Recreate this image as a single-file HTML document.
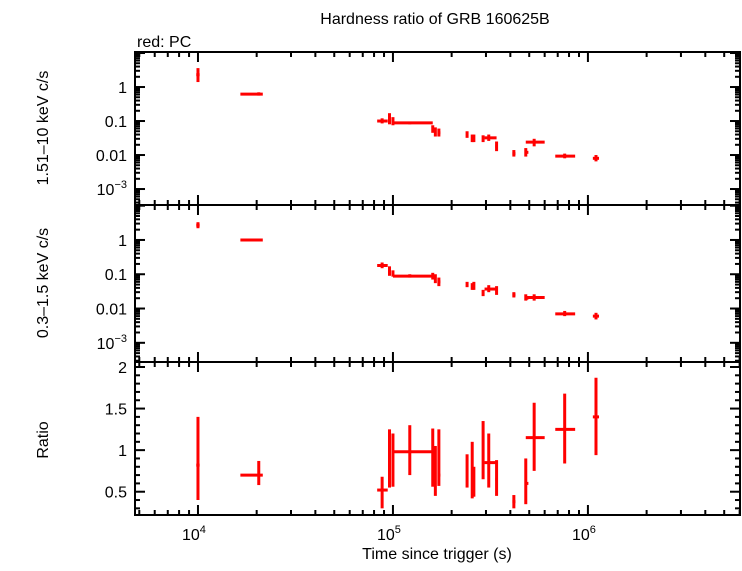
<!DOCTYPE html>
<html><head><meta charset="utf-8"><style>
body{margin:0;background:#fff;}
svg text{font-family:"Liberation Sans",sans-serif;}
</style></head><body>
<svg id="c" width="742" height="566" viewBox="0 0 742 566" xmlns="http://www.w3.org/2000/svg">
<text x="435" y="24" font-size="16" text-anchor="middle">Hardness ratio of GRB 160625B</text>
<text x="137" y="47" font-size="16">red: PC</text>
<text transform="translate(48,128) rotate(-90)" font-size="16" text-anchor="middle">1.51–10 keV c/s</text>
<text transform="translate(48,283) rotate(-90)" font-size="16" text-anchor="middle">0.3–1.5 keV c/s</text>
<text transform="translate(48,440) rotate(-90)" font-size="16" text-anchor="middle">Ratio</text>
<text x="437" y="559" font-size="16" text-anchor="middle">Time since trigger (s)</text>
<g id="g"></g>
</svg>
<script>
const tMid=[1.0e4,2.05e4,8.8e4,9.6e4,1.0e5,1.22e5,1.6e5,1.65e5,1.72e5,2.4e5,2.55e5,2.6e5,2.9e5,3.1e5,3.4e5,4.17e5,4.8e5,5.3e5,7.6e5,1.1e6];
const tLo=[0.98e4,1.65e4,8.3e4,9.5e4,0.99e5,1.0e5,1.58e5,1.64e5,1.70e5,2.38e5,2.53e5,2.59e5,2.88e5,2.95e5,3.35e5,4.1e5,4.75e5,4.8e5,6.8e5,1.06e6];
const tHi=[1.02e4,2.15e4,9.4e4,9.7e4,1.01e5,1.6e5,1.62e5,1.67e5,1.75e5,2.42e5,2.57e5,2.62e5,2.92e5,3.4e5,3.45e5,4.25e5,4.95e5,6.0e5,8.6e5,1.14e6];
const hard=[2.3,0.62,0.1,0.11,0.1,0.088,0.06,0.05,0.045,0.042,0.03,0.028,0.03,0.032,0.018,0.011,0.012,0.024,0.0093,0.008];
const hardLo=[1.4,0.56,0.085,0.08,0.075,0.08,0.045,0.035,0.035,0.032,0.024,0.024,0.024,0.026,0.013,0.009,0.009,0.018,0.008,0.0065];
const hardHi=[3.6,0.7,0.12,0.17,0.13,0.096,0.075,0.065,0.06,0.05,0.04,0.04,0.038,0.04,0.025,0.014,0.016,0.03,0.011,0.01];
const soft=[2.7,1.0,0.18,0.13,0.1,0.088,0.085,0.07,0.06,0.05,0.045,0.043,0.028,0.037,0.035,0.025,0.02,0.021,0.007,0.006];
const softLo=[2.2,0.92,0.15,0.09,0.085,0.08,0.07,0.055,0.045,0.042,0.035,0.035,0.023,0.03,0.025,0.021,0.017,0.017,0.006,0.0048];
const softHi=[3.3,1.08,0.22,0.17,0.13,0.1,0.11,0.1,0.08,0.06,0.055,0.06,0.035,0.048,0.045,0.03,0.026,0.026,0.0085,0.0075];
const ratio=[0.82,0.7,0.52,0.95,0.98,0.98,0.85,0.75,0.7,0.75,0.7,0.6,1.0,0.85,0.65,0.38,0.6,1.15,1.25,1.4];
const ratioLo=[0.4,0.58,0.3,0.55,0.56,0.7,0.56,0.45,0.57,0.55,0.42,0.44,0.65,0.55,0.45,0.3,0.35,0.75,0.84,0.94];
const ratioHi=[1.4,0.87,0.68,1.25,1.2,1.3,1.26,1.05,1.25,0.95,1.1,0.8,1.35,1.2,0.88,0.46,0.9,1.57,1.68,1.87];
const xTicks=[4,5,6];
const logTicks=[0,-1,-2,-3];
const logTickLabels=["1","0.1","0.01","10"];
const ratioTicks=[0.5,1,1.5,2];
const ratioTickLabels=["0.5","1","1.5","2"];

const NS="http://www.w3.org/2000/svg";
const g=document.getElementById('g');
const L=135,R=740;
const lx0=3.677,lx1=6.78;
function X(t){return L+(Math.log10(t)-lx0)/(lx1-lx0)*(R-L);}
const panels=[{top:52,bot:205,lmax:1.03,lmin:-3.47},{top:205,bot:362,lmax:1.02,lmin:-3.56}];
function Ylog(p,v){return p.top+(p.lmax-Math.log10(v))/(p.lmax-p.lmin)*(p.bot-p.top);}
const rp={top:362,bot:515,max:2.06,min:0.22};
function Yr(v){return rp.top+(rp.max-v)/(rp.max-rp.min)*(rp.bot-rp.top);}
function el(tag,a,p){const e=document.createElementNS(NS,tag);for(const k in a)e.setAttribute(k,a[k]);(p||g).appendChild(e);return e;}
function line(x1,y1,x2,y2,c,w){return el('line',{x1,y1,x2,y2,stroke:c,'stroke-width':w});}

const allP=[panels[0],panels[1],rp];
allP.forEach((p,i)=>{
  const r=el('rect',{x:L,y:p.top,width:R-L,height:p.bot-p.top,fill:'none',stroke:'#000','stroke-width':2});
  
  
  for(let d=3;d<=6;d++){for(let m=1;m<10;m++){const t=m*Math.pow(10,d);const x=X(t);if(x<=L||x>=R)continue;const len=m===1?10:5;
    line(x,p.top,x,p.top+len,'#000',2);line(x,p.bot,x,p.bot-len,'#000',2);}}
});
panels.forEach((p,pi)=>{
  for(let d=-4;d<=1;d++){for(let m=1;m<10;m++){const v=m*Math.pow(10,d);const y=Ylog(p,v);if(y<=p.top||y>=p.bot)continue;const len=m===1?10:5;
    line(L,y,L+len,y,'#000',2);line(R,y,R-len,y,'#000',2);}}
  logTicks.forEach((lt,i)=>{const y=Ylog(p,Math.pow(10,lt));
    const t=el('text',{x:L-8,y:y+6,'font-size':16,'text-anchor':'end'});
    
    
    t.textContent=logTickLabels[i];
    if(lt===-3){const s=el('tspan',{dy:-7,'font-size':11},t);s.textContent='−3';}
  });
});
for(let k=3;k<=20;k++){const v=k/10;const y=Yr(v);if(y<=rp.top||y>=rp.bot)continue;const len=(k%5===0)?10:5;
  line(L,y,L+len,y,'#000',2);line(R,y,R-len,y,'#000',2);}
ratioTicks.forEach((v,i)=>{const t=el('text',{x:L-8,y:Yr(v)+6,'font-size':16,'text-anchor':'end'});
  
  
  t.textContent=ratioTickLabels[i];});
xTicks.forEach(d=>{const t=el('text',{x:X(Math.pow(10,d))-4,y:540,'font-size':16,'text-anchor':'middle'});
  
  
  t.textContent='10';const s=el('tspan',{dy:-7,'font-size':11},t);s.textContent=String(d);});

const red='#f00';
for(let i=0;i<tMid.length;i++){
  const x=X(tMid[i]),xa=X(tLo[i]),xb=X(tHi[i]);
  [[0,hard,hardLo,hardHi],[1,soft,softLo,softHi]].forEach(([pi,v,lo,hi])=>{
    const p=panels[pi];const y=Ylog(p,v[i]);
    const h=line(xa,y,xb,y,red,3);
    
    
    const vv=line(x,Ylog(p,hi[i]),x,Ylog(p,lo[i]),red,3);
    
    
  });
  const y=Yr(ratio[i]);
  const h=line(xa,y,xb,y,red,3);
  
  
  const vv=line(x,Yr(ratioHi[i]),x,Yr(ratioLo[i]),red,3);
  
  
}
</script>
</body></html>
